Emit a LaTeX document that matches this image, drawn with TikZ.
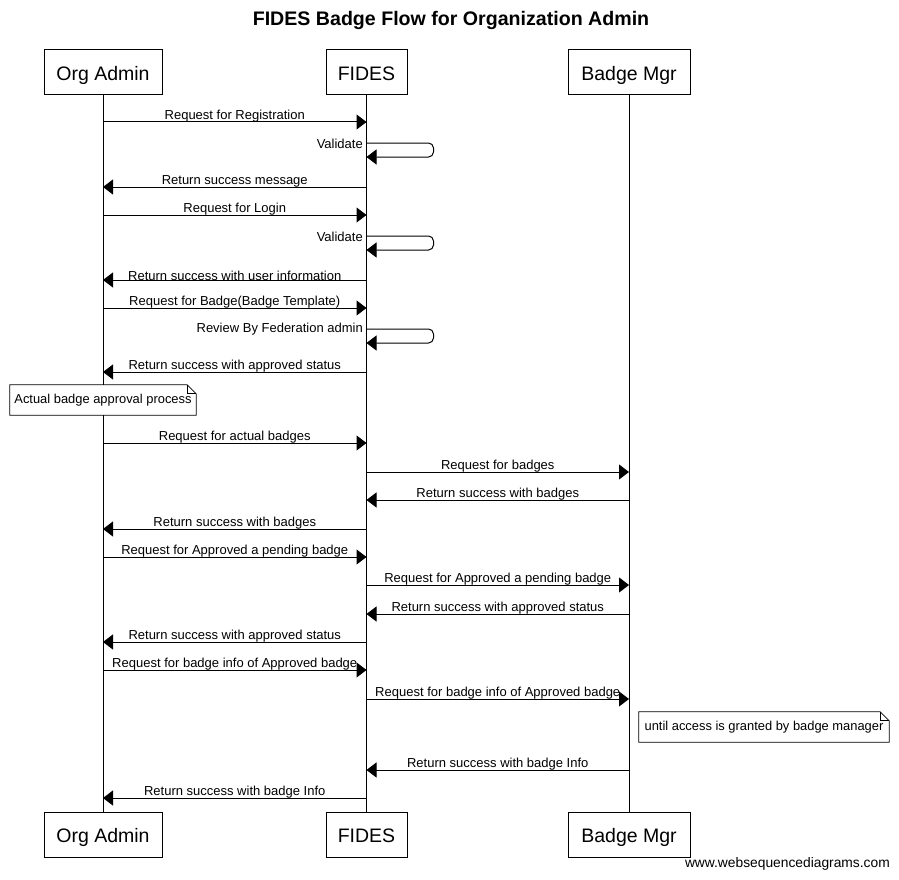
\documentclass[tikz,border=0pt]{standalone}
\usepackage{fontspec}
\setmainfont{Liberation Sans}
\usetikzlibrary{arrows.meta,calc}
\tikzset{
  actor/.style={draw, fill=white, line width=1pt, minimum height=45pt, inner sep=0pt, text height=17pt, text depth=1pt, font=\fontsize{19.5}{22}\selectfont},
  msg/.style={line width=1pt, -{Triangle[length=10pt,width=15pt]}},
  lbl/.style={above, inner sep=0pt, yshift=-1pt, font=\fontsize{13}{15}\selectfont},
  slbl/.style={anchor=east, inner sep=3.5pt, font=\fontsize{13}{15}\selectfont},
  notebox/.style={fill=white, inner sep=0pt, minimum height=30pt, font=\fontsize{12.9}{15}\selectfont},
  life/.style={line width=1pt}
}
\newcommand\msg[4]{\draw[msg] (#1.south |- 0,#3) -- node[lbl]{#4} (#2.south |- 0,#3);}
\newcommand\selfmsg[2]{%
  \draw[msg, rounded corners=5pt] (fd.south |- 0,#1) -- ++(67,0) -- ++(0,14) -- (fd.south |- 0,#1+14);
  \node[slbl] at (fd.south |- 0,#1+0.5) {#2};}
\newcommand\notedraw[1]{%
  \draw[line width=0.8pt] (#1.north west) -- ([xshift=-9pt]#1.north east) -- ([yshift=-9pt]#1.north east) -- (#1.south east) -- (#1.south west) -- cycle;
  \draw[line width=0.8pt] ([xshift=-9pt]#1.north east) -- ([xshift=-9pt,yshift=-9pt]#1.north east) -- ([yshift=-9pt]#1.north east);}
\begin{document}
\begin{tikzpicture}[x=1pt,y=-1pt]
\useasboundingbox (0,0) rectangle (899,880);
\node[font=\bfseries\fontsize{19.6}{22}\selectfont] (title) at (451,20) {FIDES Badge Flow for Organization Admin};
% actors
\node[actor, minimum width=118pt] (oa) at (103,72.5) {Org Admin};
\node[actor, minimum width=81pt] (fd) at (366.5,72.5) {FIDES};
\node[actor, minimum width=122pt] (bm) at (629,72.5) {Badge Mgr};
\node[actor, minimum width=118pt] (oab) at (103,834.5) {Org Admin};
\node[actor, minimum width=81pt] (fdb) at (366.5,834.5) {FIDES};
\node[actor, minimum width=122pt] (bmb) at (629,834.5) {Badge Mgr};
\draw[life] (oa.south) -- (oab.north);
\draw[life] (fd.south) -- (fdb.north);
\draw[life] (bm.south) -- (bmb.north);
% messages
\msg{oa}{fd}{122}{Request for Registration}
\selfmsg{143}{Validate}
\msg{fd}{oa}{187}{Return success message}
\msg{oa}{fd}{215}{Request for Login}
\selfmsg{236}{Validate}
\msg{fd}{oa}{280}{Return success with user information}
\msg{oa}{fd}{308}{Request for Badge(Badge Template)}
\selfmsg{329}{Review By Federation admin}
\msg{fd}{oa}{372}{Return success with approved status}
\node[notebox, minimum width=186pt] (n1) at (103,400) {Actual badge approval process};
\notedraw{n1}
\msg{oa}{fd}{443}{Request for actual badges}
\msg{fd}{bm}{472}{Request for badges}
\msg{bm}{fd}{500}{Return success with badges}
\msg{fd}{oa}{529}{Return success with badges}
\msg{oa}{fd}{557}{Request for Approved a pending badge}
\msg{fd}{bm}{585}{Request for Approved a pending badge}
\msg{bm}{fd}{614}{Return success with approved status}
\msg{fd}{oa}{642}{Return success with approved status}
\msg{oa}{fd}{670}{Request for badge info of Approved badge}
\msg{fd}{bm}{699}{Request for badge info of Approved badge}
\node[notebox, minimum width=250pt] (n2) at (764,727) {until access is granted by badge manager};
\notedraw{n2}
\msg{bm}{fd}{770}{Return success with badge Info}
\msg{fd}{oa}{798}{Return success with badge Info}
\node[anchor=east, inner sep=0pt, font=\fontsize{13.8}{16}\selectfont] (foot) at (890,864) {www.websequencediagrams.com};
\end{tikzpicture}
\end{document}
